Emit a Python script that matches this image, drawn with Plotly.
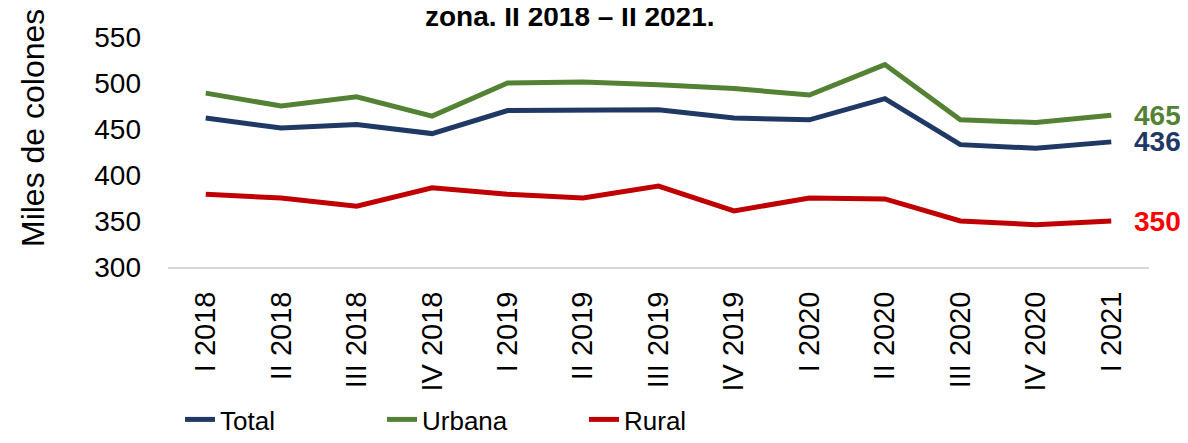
import plotly.graph_objects as go

categories = ["I 2018", "II 2018", "III 2018", "IV 2018", "I 2019", "II 2019", "III 2019",
              "IV 2019", "I 2020", "II 2020", "III 2020", "IV 2020", "I 2021"]
total = [462, 451, 455, 445, 470, 470, 471, 462, 460, 483, 433, 429, 436]
urbana = [489, 475, 485, 464, 500, 501, 498, 494, 487, 520, 460, 457, 465]
rural = [379, 375, 366, 386, 379, 375, 388, 361, 375, 374, 350, 346, 350]
end_labels = ["465", "436", "350"]

FONT = "Liberation Sans, Arial, sans-serif"
NAVY = "#1F3864"
GREEN = "#548235"
RED = "#C00000"

fig = go.Figure()
for name, vals, col in [("Total", total, NAVY), ("Urbana", urbana, GREEN), ("Rural", rural, RED)]:
    fig.add_trace(go.Scatter(x=categories, y=vals, mode="lines", name=name,
                             line=dict(color=col, width=5), cliponaxis=False))

for txt, val, col in [(end_labels[0], urbana[-1], GREEN), (end_labels[1], total[-1], NAVY),
                      (end_labels[2], rural[-1], "#FF0000")]:
    fig.add_annotation(x=categories[-1], y=val, text=f"<b>{txt}</b>", showarrow=False,
                       xanchor="left", xshift=21, yanchor="middle",
                       font=dict(family=FONT, size=28, color=col))

fig.add_annotation(xref="paper", yref="paper", x=0.4098, y=1.088,
                   text="<b>zona. II 2018 – II 2021.</b>", showarrow=False,
                   xanchor="center", yanchor="middle",
                   font=dict(family=FONT, size=28, color="black"))

# y-axis title placed as a rotated annotation (as in the reference, above centre)
fig.add_annotation(xref="paper", yref="paper", x=(25 - 160) / 981, y=(259 - 120) / 230,
                   text="Miles de colones", showarrow=False, textangle=-90,
                   xanchor="center", yanchor="middle",
                   font=dict(family=FONT, size=32, color="black"))

fig.update_layout(
    width=1180, height=435,
    margin=dict(l=160, r=39, t=29, b=176, autoexpand=False),
    paper_bgcolor="white", plot_bgcolor="white",
    font=dict(family=FONT, color="black"),
    showlegend=True,
    legend=dict(orientation="h", x=12 / 981, xanchor="left",
                yref="container", y=0.0, yanchor="bottom", entrywidth=157,
                entrywidthmode="pixels",
                font=dict(family=FONT, size=26), itemwidth=30, tracegroupgap=0),
)
fig.update_xaxes(type="category", range=[-0.5, 12.5], showgrid=False, showline=True,
                 linecolor="#D9D9D9", linewidth=2, tickangle=-90, ticks="",
                 ticklabelstandoff=11, automargin=False,
                 tickfont=dict(family=FONT, size=29, color="black"))
fig.update_yaxes(range=[300, 550], dtick=50, showgrid=False, zeroline=False, showline=False,
                 ticks="", ticklabelstandoff=26, automargin=False,
                 tickfont=dict(family=FONT, size=28, color="black"))

fig.write_html("out.html")
